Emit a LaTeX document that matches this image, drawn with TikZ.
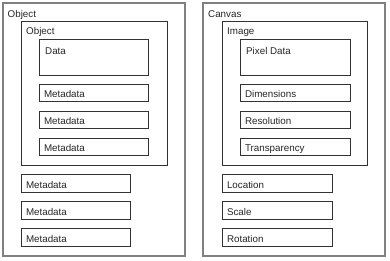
\documentclass[tikz,border=0pt]{standalone}
\usepackage{fontspec}
\setmainfont{Liberation Sans}
\begin{document}
\begin{tikzpicture}[x=1pt,y=-1pt,
  every node/.style={font=\fontsize{9.8}{11}\selectfont, text=black!85},
  outerbox/.style={draw=black!50, line width=1.6pt, inner sep=0pt, outer sep=0pt, anchor=north west},
  grp/.style={draw=black!80, line width=1pt, inner sep=0pt, outer sep=0pt, anchor=north west},
  item/.style={draw=black!80, line width=1pt, anchor=north west, inner xsep=5pt, inner ysep=0pt, outer sep=0pt,
    text width=#1, align=left, text height=10pt, text depth=0pt},
  lbl/.style={anchor=base west, inner sep=0pt}
]
\useasboundingbox (0,0) rectangle (390,260);
\fill[white] (0,0) rectangle (390,260);

% left panel
\node[outerbox, minimum width=182pt, minimum height=253pt] (lo) at (3,3) {};
\node[lbl] (lol) at (7.5,17) {Object};
\node[grp, minimum width=146pt, minimum height=144pt] (lin) at (21,21) {};
\node[lbl] (linl) at (26,34) {Object};
\node[grp, minimum width=109pt, minimum height=36pt] (ldata) at (39,39) {};
\node[lbl] (ldatal) at (45,54) {Data};
\node[item=99pt, minimum height=17pt] (lm1) at (39,84) {Metadata};
\node[item=99pt, minimum height=17pt] (lm2) at (39,111) {Metadata};
\node[item=99pt, minimum height=17pt] (lm3) at (39,138) {Metadata};
\node[item=99pt, minimum height=18pt] (lo1) at (21,174) {Metadata};
\node[item=99pt, minimum height=18pt] (lo2) at (21,201) {Metadata};
\node[item=99pt, minimum height=18pt] (lo3) at (21,228) {Metadata};

% right panel
\node[outerbox, minimum width=182pt, minimum height=253pt] (ro) at (203,3) {};
\node[lbl] (rol) at (208,17) {Canvas};
\node[grp, minimum width=145pt, minimum height=144pt] (rin) at (222,21) {};
\node[lbl] (rinl) at (227,34) {Image};
\node[grp, minimum width=110pt, minimum height=36pt] (rdata) at (240,39) {};
\node[lbl] (rdatal) at (246,54) {Pixel Data};
\node[item=100pt, minimum height=17pt] (rm1) at (240,84) {Dimensions};
\node[item=100pt, minimum height=17pt] (rm2) at (240,111) {Resolution};
\node[item=100pt, minimum height=17pt] (rm3) at (240,138) {Transparency};
\node[item=100pt, minimum height=18pt] (ro1) at (222,174) {Location};
\node[item=100pt, minimum height=18pt] (ro2) at (222,201) {Scale};
\node[item=100pt, minimum height=18pt] (ro3) at (222,228) {Rotation};
\end{tikzpicture}
\end{document}
